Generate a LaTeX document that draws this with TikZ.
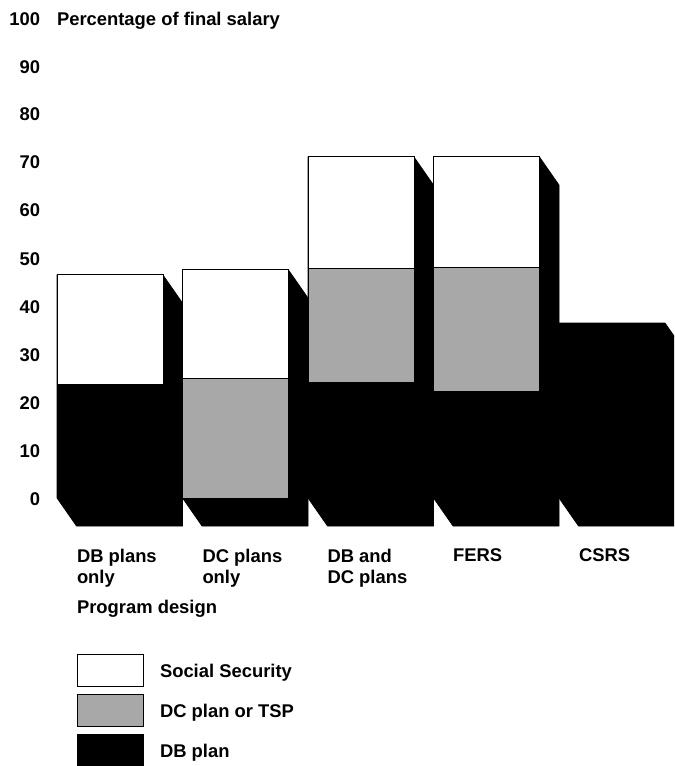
\documentclass[tikz,border=0pt]{standalone}
\usepackage{fontspec}
\setmainfont{Liberation Sans}
\definecolor{dcgrey}{gray}{0.66}
\begin{document}
\begin{tikzpicture}[x=0.75pt,y=-0.75pt,
  font=\fontsize{13.8}{15.75}\selectfont\bfseries,
  lbl/.style={inner sep=0pt, outer sep=0pt},
  tick/.style={lbl, anchor=base east},
  catlbl/.style={lbl, anchor=north west, align=left},
  frontwhite/.style={fill=white, draw=black, line width=0.75pt},
  frontgrey/.style={fill=dcgrey, draw=black, line width=0.75pt},
  frontblack/.style={fill=black, draw=black, line width=0.75pt},
  solidbody/.style={fill=black, draw=black, line width=0.5pt}]
\useasboundingbox (0,0) rectangle (674,766);
\begin{scope}
\clip (0,0) rectangle (674,766);
% 3D bodies: left, right, top ; dx=19.5, dy=28, bottom=498
\foreach \l/\t in {57/275, 182.5/270, 308/157, 433.5/157, 559/323}{
  \pgfmathsetmacro{\r}{\l+106}
  \fill[solidbody] (\l,\t) -- (\r,\t) -- (\r+19.5,\t+28) -- (\r+19.5,526) -- (\l+19.5,526) -- (\l,498) -- cycle;
}
% front faces
% bar 1
\filldraw[frontwhite] (57,275) rectangle (163,384);
% bar 2
\filldraw[frontwhite] (182.5,270) rectangle (288.5,378);
\filldraw[frontgrey] (182.5,378) rectangle (288.5,498);
% bar 3
\filldraw[frontwhite] (308,157) rectangle (414,269);
\filldraw[frontgrey] (308,269) rectangle (414,382);
% bar 4
\filldraw[frontwhite] (433.5,157) rectangle (539.5,268);
\filldraw[frontgrey] (433.5,268) rectangle (539.5,391);
\end{scope}
% axis
\node[lbl, anchor=base west] (ytitle) at (57,26) {Percentage of final salary};
\node[tick] (t100) at (40,26) {100};
\node[tick] (t90) at (40,74) {90};
\node[tick] (t80) at (40,121) {80};
\node[tick] (t70) at (40,169) {70};
\node[tick] (t60) at (40,217) {60};
\node[tick] (t50) at (40,266) {50};
\node[tick] (t40) at (40,313) {40};
\node[tick] (t30) at (40,361) {30};
\node[tick] (t20) at (40,409) {20};
\node[tick] (t10) at (40,457) {10};
\node[tick] (t0) at (40,505) {0};
% categories
\node[catlbl] (c1) at (77,549) {DB plans\\only};
\node[catlbl] (c2) at (202.5,549) {DC plans\\only};
\node[catlbl] (c3) at (327.5,549) {DB and\\DC plans};
\node[catlbl] (c4) at (453,549) {FERS};
\node[catlbl] (c5) at (579,549) {CSRS};
\node[lbl, anchor=base west] (xtitle) at (77,613) {Program design};
% legend
\filldraw[frontwhite] (77,654) rectangle (143,686);
\filldraw[frontgrey] (77,694) rectangle (143,726);
\filldraw[frontblack] (77,734) rectangle (143,766);
\node[lbl, anchor=base west] (lg1) at (160,677) {Social Security};
\node[lbl, anchor=base west] (lg2) at (160,717) {DC plan or TSP};
\node[lbl, anchor=base west] (lg3) at (160,757) {DB plan};
\end{tikzpicture}
\end{document}
